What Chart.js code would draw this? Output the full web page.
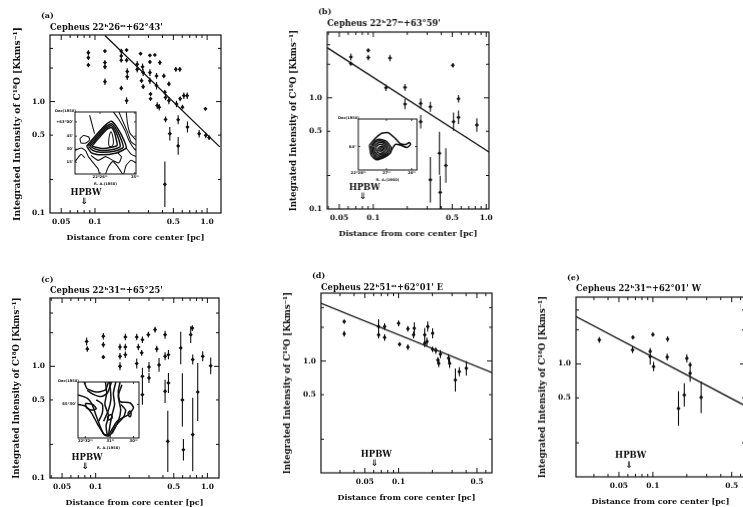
<!DOCTYPE html>
<html><head><meta charset="utf-8">
<style>
html,body{margin:0;padding:0;background:#fff;overflow:hidden;width:743px;height:507px}
canvas{position:absolute;filter:blur(.35px)}
</style>
<script src="https://cdn.jsdelivr.net/npm/chart.js@4"></script>
</head><body>
<script>
// ---- tick lists
const xMinorTicks=[.02,.03,.04,.05,.06,.07,.08,.09,.1,.2,.3,.4,.5,.6,.7,.8,.9,1];
const yAllTicks=[.1,.2,.5,1,2,3];
const xLabelsWide=[.05,.1,.5,1];
const xLabelsNarrow=[.05,.1,.5];
const yLabelsWide=[.1,.5,1];
const yLabelsNarrow=[.5,1];
// ---- panel (a)
const xA=[.0873,.0873,.0873,.1227,.1227,.1227,.1227,.1716,.1716,.1716,.1716,.1914,.1914,.194,.194,.1914,.238,.238,.255,.2656,.269,.26,.269,.309,.309,.309,.309,.313,.313,.342,.354,.379,.354,.411,.359,.374,.42,.426,.456,.456,.426,.465,.526,.571,.533,.575,.62,.664,.603,.552,.552,.668,.849,.966,.973,1.042,.42];
const yA=[2.75,2.48,2.13,2.84,2.24,2.05,1.51,2.84,2.57,2.35,1.32,2.9,2.35,1.86,1.67,1.02,2.16,1.95,2.69,2.05,1.82,1.54,1.36,2.6,2.27,1.82,1.54,1.17,1.06,2.62,1.39,2.24,1.7,1.7,.92,.891,1.21,1.09,1.44,1.02,.692,.515,1.95,1.95,.953,1.06,1.13,1.13,.891,.687,.4,.591,.515,.861,.498,.475,.181];
const fA=[1.05,1.05,1.05,1.03,1.05,1.05,1.07,1.05,1.05,1.05,1.05,1.03,1.05,1.07,1.07,1.07,1.07,1.07,1.03,1.07,1.07,1.05,1.05,1.03,1.04,1.07,1.07,1.04,1.04,1.02,1.08,1.05,1.06,1.05,1.07,1.07,1.05,1.06,1.05,1.08,1.06,1.15,1.05,1.05,1.07,1.05,1.07,1.07,1.05,1.1,1.2,1.12,1.08,1.03,1.06,1.05,1.6];
const lineXA=[.1227,1.297], lineYA=[3.92,.392];
// ---- panel (b)
const xB=[.0634,.0634,.0903,.0903,.1406,.1295,.191,.191,.263,.263,.32,.32,.385,.391,.439,.506,.568,.568,.513,.826];
const yB=[2.33,2.03,2.67,2.3,2.28,1.23,1.24,.877,.89,.61,.83,.183,.317,.141,.246,1.96,.98,.667,.61,.57];
const fB=[1.07,1.04,1.04,1.06,1.07,1.07,1.07,1.11,1.11,1.15,1.11,1.6,1.56,1.41,1.43,1.05,1.08,1.15,1.21,1.15];
const lineXB=[.0391,1.057], lineYB=[2.82,.326];
// ---- panel (c)
const xC=[.083,.0842,.1171,.1171,.1171,.165,.165,.165,.1844,.1844,.1844,.233,.233,.241,.262,.258,.262,.262,.296,.3,.3,.34,.352,.369,.418,.418,.418,.448,.448,.442,.577,.597,.61,.709,.733,.739,.739,.819,.908,1.07];
const yC=[1.67,1.43,1.86,1.56,1.21,1.49,1.23,1,1.83,1.49,1.27,1.83,1.06,1.49,1.73,1.32,.814,.557,1.92,.986,.787,2.13,1.43,1.03,1.92,1.23,.597,1.27,.71,.213,1.46,.5,.179,1.92,2.2,1.15,.245,.589,1.23,1.01];
const fC=[1.085,1.06,1.07,1.06,1.04,1.07,1.07,1.085,1.07,1.07,1.07,1.07,1.11,1.07,1.07,1.06,1.19,1.23,1.06,1.11,1.11,1.06,1.07,1.15,1.085,1.085,1.27,1.1,1.23,1.88,1.4,1.73,1.25,1.19,1.06,1.11,2.13,1.82,1.11,1.19];
// ---- panel (d)
const xD=[.0327,.0327,.0663,.0663,.075,.075,.1,.102,.121,.121,.138,.136,.171,.171,.179,.182,.201,.201,.215,.228,.236,.224,.279,.285,.321,.348,.402];
const yD=[2.25,1.75,2.03,1.71,2.03,1.62,2.17,1.41,1.94,1.33,1.96,1.71,1.71,1.44,1.49,2.03,1.77,1.27,1.24,.953,1.15,1.02,1.06,.953,.676,.802,.86];
const fD=[1.04,1.06,1.16,1.07,1.07,1.07,1.06,1.04,1.06,1.06,1.13,1.07,1.15,1.085,1.085,1.11,1.11,1.06,1.07,1.085,1.085,1.06,1.085,1.1,1.27,1.1,1.16];
const lineXD=[.0203,.681], lineYD=[3.28,.787];
// ---- panel (e)
const xE=[.0335,.0665,.066,.0947,.0947,.1,.1014,.135,.134,.2,.214,.214,.19,.1687,.268];
const yE=[1.63,1.72,1.33,1.29,1.16,1.82,.947,1.66,1.15,1.12,.826,.98,.531,.404,.506];
const fE=[1.06,1.04,1.07,1.07,1.18,1.04,1.1,1.06,1.07,1.085,1.19,1.06,1.27,1.42,1.38];
const lineXE=[.0208,.656], lineYE=[2.63,.427];
// ---- beam-size markers
const hpbwX=[.0798,.0804,.0803,.0607,.061];
const hpbwY=[.151,.154,.151,.147,.153];
// ---- inset contours (offsets in percent of the map)
const contoursA=[
[[19,45],[33,61],[49,78],[60,85],[71,72],[80,55],[84,42],[68,34],[41,31],[27,34],[19,45]],
[[22,45],[35,60],[50,76],[60,81],[69,70],[76,55],[79,43],[66,37],[42,35],[29,38],[22,45]],
[[25,45],[37,59],[51,74],[60,78],[67,68],[72,55],[74,44],[64,40],[44,38],[31,41],[25,45]],
[[28,45],[39,58],[52,72],[60,75],[65,66],[68,54],[69,46],[60,43],[46,41],[34,43],[28,45]],
[[55,50],[56,60],[59,68],[62,60],[63,50],[60,44],[56,45],[55,50]],
[[63,100],[72,88],[82,70],[88,55],[96,42],[100,38]],
[[72,100],[78,86],[86,68],[92,52],[100,46]],
[[84,100],[86,82],[90,66],[100,55]],
[[24,95],[28,80],[32,65]],
[[8,57],[14,62],[22,60],[24,55],[18,50],[10,50],[8,57]],
[[0,38],[10,42],[17,38],[22,28],[30,18],[38,8],[40,0]],
[[0,20],[10,32],[16,26]],
[[26,30],[38,22],[50,28],[62,22],[72,18],[76,28],[70,34]],
[[50,0],[55,12],[62,20],[70,12],[78,0]],
[[80,0],[84,14],[92,22],[100,18]],
[[84,42],[92,32],[100,28]]];
const contoursB=[
[[19,49],[29,62],[40,72],[51,73],[63,62],[71,52],[81,50],[87,54],[89,50],[83,44],[71,49],[63,50],[58,42],[54,33],[46,26],[31,20],[22,29],[19,49]],
[[22,48],[30,58],[38,60],[48,56],[56,44],[54,33],[44,27],[32,22],[24,32],[22,48]],
[[24,47],[31,56],[39,57],[47,53],[53,43],[51,34],[43,29],[33,25],[26,34],[24,47]],
[[27,46],[33,53],[40,54],[46,50],[50,42],[48,35],[41,31],[34,29],[28,36],[27,46]],
[[30,45],[35,50],[40,50],[45,47],[47,41],[44,36],[39,33],[35,33],[31,38],[30,45]],
[[34,43],[38,46],[42,46],[44,42],[41,38],[37,37],[34,39],[34,43]],
[[37,42],[40,44],[42,42],[40,39],[37,40],[37,42]]];
const contoursC=[
[[0,77],[15,71],[23,60],[31,36],[42,7],[50,6],[64,30],[83,42],[91,54],[85,63],[69,65],[66,83],[69,100]],
[[0,60],[12,57],[22,45],[32,25],[44,5],[52,4],[62,22],[75,38],[78,50],[70,60]],
[[10,100],[15,88],[30,82],[45,86],[50,100]],
[[15,85],[25,78],[38,74],[48,80],[55,100]],
[[12,62],[24,60],[30,52],[22,50],[14,54],[12,62]],
[[45,100],[47,80],[44,60],[50,40],[46,22],[48,5]],
[[62,100],[58,80],[60,60],[56,42],[52,20],[50,3]],
[[52,100],[54,70],[50,50],[42,30]],
[[72,95],[66,75],[70,50],[66,30],[56,8]],
[[84,38],[82,44],[85,48],[87,44],[86,38],[84,38]],
[[48,38],[54,42],[56,36],[50,32],[48,38]],
[[30,68],[40,60],[40,45],[34,30]]];
const insetXTicksA=[41,98], insetXNamesA=["22ʰ26ᵐ","25ᵐ"], insetYTicksA=[19,40,61,84], insetYNamesA=["15'","30'","45'","+63°00'"];
const insetXTicksB=[0,48,91], insetXNamesB=["22ʰ28ᵐ","27ᵐ","26ᵐ"], insetYTicksB=[46], insetYNamesB=["64°"];
const insetXTicksC=[12,53,91], insetXNamesC=["22ʰ32ᵐ","31ᵐ","30ᵐ"], insetYTicksC=[60], insetYNamesC=["65°30'"];

const INK='#111';
const FONT='"DejaVu Serif"';
function el(l,t,w,h){const c=document.createElement('canvas');c.width=w;c.height=h;c.style.left=l+'px';c.style.top=t+'px';c.style.width=w+'px';c.style.height=h+'px';document.body.appendChild(c);return c}

const framePlugin={id:'frame',
 beforeDatasetsDraw(ch,_a,o){
  const a=ch.chartArea,g=ch.ctx;g.save();g.strokeStyle=INK;g.lineWidth=o.frameWidth;g.strokeRect(a.left,a.top,a.right-a.left,a.bottom-a.top);
  g.lineWidth=o.tickWidth;g.beginPath();
  for(const t of o.xTicks){const p=ch.scales.x.getPixelForValue(t);if(p<a.left+1||p>a.right-1)continue;const L=o.xLong.includes(t)?o.long:o.short;
   g.moveTo(p,a.bottom);g.lineTo(p,a.bottom-L);g.moveTo(p,a.top);g.lineTo(p,a.top+L);}
  for(const t of o.yTicks){const p=ch.scales.y.getPixelForValue(t);if(p<a.top+1||p>a.bottom-1)continue;const L=o.yLong.includes(t)?o.long:o.short;
   g.moveTo(a.left,p);g.lineTo(a.left+L,p);g.moveTo(a.right,p);g.lineTo(a.right-L,p);}
  g.stroke();
  if(o.err){const d=o.err;g.lineWidth=1.1;g.beginPath();
   d.x.forEach((x,i)=>{const px=ch.scales.x.getPixelForValue(x);
    let hi=ch.scales.y.getPixelForValue(d.y[i]*d.f[i]),lo=ch.scales.y.getPixelForValue(d.y[i]/d.f[i]);
    lo=Math.min(lo,a.bottom);g.moveTo(px,hi);g.lineTo(px,lo);});
   g.stroke();}
  g.restore();
 },
 afterDraw(ch,_a,o){
  const g=ch.ctx,a=ch.chartArea;g.save();g.fillStyle=INK;g.textBaseline='middle';
  if(o.letter){g.textAlign='left';g.font='bold 8px '+FONT;g.fillText(o.letter,a.left-9,a.top-o.letterUp);}
  if(o.beam){const px=ch.scales.x.getPixelForValue(o.beam[0]),py=ch.scales.y.getPixelForValue(o.beam[1]);
   g.textAlign='center';g.font='bold 8.5px '+FONT;g.fillText('HPBW',px+2,py);
   g.font='bold 9px "DejaVu Sans"';g.fillText('⇓',px,py+9);}
  if(o.corner){g.textAlign='left';g.font='bold 3.6px "DejaVu Sans"';g.fillText(o.corner,a.left-20,a.top-1);}
  g.restore();
 }};

function panel(c){
 const w=c.right-c.left,h=c.bottom-c.top;
 const cv=el(c.left-44,c.top-26,w+44+18,h+26+36);
 const datasets=[{type:'scatter',data:c.x.map((x,i)=>({x,y:c.y[i]})),backgroundColor:INK,borderColor:INK,pointStyle:'rectRot',pointRadius:2.1,pointBorderWidth:0}];
 if(c.lineX)datasets.push({type:'line',data:c.lineX.map((x,i)=>({x,y:c.lineY[i]})),borderColor:INK,borderWidth:1.3,pointRadius:0,tension:0});
 const makeTicks=(list)=>s=>{s.ticks=list.map(value=>({value}))};
 const fmt=v=>v>=.1&&(v===1||v===.5||v===.1)?v.toFixed(1):v===.05?'0.05':'';
 new Chart(cv,{type:'scatter',data:{datasets},plugins:[framePlugin],options:{
  responsive:false,animation:false,events:[],
  layout:{padding:{left:0,right:18,top:0,bottom:0}},
  scales:{
   x:{type:'logarithmic',min:c.xMin,max:c.xMax,grid:{display:false,drawTicks:false},border:{display:false},afterBuildTicks:makeTicks(c.xLabels),afterFit:s=>{s.height=36},
    ticks:{color:INK,font:{family:FONT,size:7.5,weight:'bold'},padding:5,autoSkip:false,maxRotation:0,callback:fmt},
    title:{display:true,text:'Distance from core center [pc]',color:INK,font:{family:FONT,size:8,weight:'bold'},padding:{top:0,bottom:6}}},
   y:{type:'logarithmic',min:c.yMin,max:c.yMax,grid:{display:false,drawTicks:false},border:{display:false},afterBuildTicks:makeTicks(c.yLabels),afterFit:s=>{s.width=44},
    ticks:{color:INK,font:{family:FONT,size:7.5,weight:'bold'},padding:5,autoSkip:false,callback:fmt},
    title:{display:true,text:'Integrated Intensity of C¹⁸O [Kkms⁻¹]',color:INK,font:{family:FONT,size:c.yTitleSize,weight:'bold'},padding:{top:6,bottom:0}}}
  },
  plugins:{legend:{display:false},tooltip:{enabled:false},
   title:{display:true,text:c.title,align:'start',fullSize:false,color:INK,font:{family:FONT,size:8.3,weight:'bold',lineHeight:10/8.3},padding:{top:16-c.titleGap,bottom:c.titleGap}},
   frame:{frameWidth:1.2,tickWidth:1,long:5,short:3,xTicks:xMinorTicks,yTicks:yAllTicks,xLong:c.xLabels,yLong:[1],
    err:{x:c.x,y:c.y,f:c.f},letter:c.letter,letterUp:c.letterUp,beam:c.beam}}
 }});
}
function inset(c){
 const w=c.right-c.left,h=c.bottom-c.top;
 const cv=el(c.left-24,c.top-8,w+24+8,h+8+16);
 const datasets=c.lines.map((l,i)=>({type:'line',data:l.map(p=>({x:p[0],y:p[1]})),borderColor:INK,borderWidth:i<c.heavy?1.5:1.05,pointRadius:0,tension:.2}));
 const tickAt=(list)=>s=>{s.ticks=list.map(value=>({value}))};
 new Chart(cv,{type:'scatter',data:{datasets},plugins:[framePlugin],options:{
  responsive:false,animation:false,events:[],
  layout:{padding:{left:0,right:8,top:8,bottom:0}},
  scales:{
   x:{type:'linear',min:0,max:100,grid:{display:false,drawTicks:false},border:{display:false},afterBuildTicks:tickAt(c.xTicks),afterFit:s=>{s.height=16},
    ticks:{color:INK,font:{family:'"DejaVu Sans"',size:3.8,weight:'bold'},padding:1,autoSkip:false,maxRotation:0,callback:v=>c.xNames[c.xTicks.indexOf(v)]||''},
    title:{display:true,text:'R. A.(1950)',color:INK,font:{family:'"DejaVu Sans"',size:3.6,weight:'bold'},padding:{top:0,bottom:4}}},
   y:{type:'linear',min:0,max:100,grid:{display:false,drawTicks:false},border:{display:false},afterBuildTicks:tickAt(c.yTicks),afterFit:s=>{s.width=24},
    ticks:{color:INK,font:{family:'"DejaVu Sans"',size:3.8,weight:'bold'},padding:2,autoSkip:false,callback:v=>c.yNames[c.yTicks.indexOf(v)]||''}}
  },
  plugins:{legend:{display:false},tooltip:{enabled:false},title:{display:false},
   frame:{frameWidth:1,tickWidth:.8,long:2,short:2,xTicks:c.xTicks,yTicks:c.yTicks,xLong:[],yLong:[],corner:'Dec(1950)'}}
 }});
}

panel({left:50,right:221,top:34.5,bottom:213,xMin:.0397,xMax:1.33,yMin:.1,yMax:3.96,x:xA,y:yA,f:fA,lineX:lineXA,lineY:lineYA,xLabels:xLabelsWide,yLabels:yLabelsWide,title:"Cepheus 22ʰ26ᵐ+62°43'",titleGap:2,yTitleSize:9.2,letter:'(a)',letterUp:19,beam:[hpbwX[0],hpbwY[0]]});
panel({left:327.3,right:488.7,top:31.7,bottom:209.3,xMin:.0391,xMax:1.057,yMin:.1,yMax:3.9,x:xB,y:yB,f:fB,lineX:lineXB,lineY:lineYB,xLabels:xLabelsWide,yLabels:yLabelsWide,title:"Cepheus 22ʰ27ᵐ+63°59'",titleGap:3,yTitleSize:8.6,letter:'(b)',letterUp:20,beam:[hpbwX[1],hpbwY[1]]});
panel({left:50,right:219,top:298.3,bottom:478.3,xMin:.039,xMax:1.27,yMin:.1,yMax:4.09,x:xC,y:yC,f:fC,xLabels:xLabelsWide,yLabels:yLabelsWide,title:"Cepheus 22ʰ31ᵐ+65°25'",titleGap:2,yTitleSize:8.6,letter:'(c)',letterUp:18,beam:[hpbwX[2],hpbwY[2]]});
panel({left:320.7,right:491.7,top:293.3,bottom:472.7,xMin:.0203,xMax:.681,yMin:.1,yMax:4.04,x:xD,y:yD,f:fD,lineX:lineXD,lineY:lineYD,xLabels:xLabelsNarrow,yLabels:yLabelsNarrow,title:"Cepheus 22ʰ51ᵐ+62°01' E",titleGap:0,yTitleSize:8.6,letter:'(d)',letterUp:17,beam:[hpbwX[3],hpbwY[3]]});
panel({left:575.7,right:745,top:297.3,bottom:476.7,xMin:.0208,xMax:.656,yMin:.1,yMax:3.9,x:xE,y:yE,f:fE,lineX:lineXE,lineY:lineYE,xLabels:xLabelsNarrow,yLabels:yLabelsNarrow,title:"Cepheus 22ʰ31ᵐ+62°01' W",titleGap:3,yTitleSize:8.6,letter:'(e)',letterUp:19,beam:[hpbwX[4],hpbwY[4]]});
inset({left:75,right:136,top:112.3,bottom:174.3,lines:contoursA,heavy:4,xTicks:insetXTicksA,xNames:insetXNamesA,yTicks:insetYTicksA,yNames:insetYNamesA});
inset({left:358.3,right:416.7,top:119,bottom:170,lines:contoursB,heavy:7,xTicks:insetXTicksB,xNames:insetXNamesB,yTicks:insetYTicksB,yNames:insetYNamesB});
inset({left:77.7,right:139,top:382.3,bottom:438.3,lines:contoursC,heavy:12,xTicks:insetXTicksC,xNames:insetXNamesC,yTicks:insetYTicksC,yNames:insetYNamesC});
</script>
</body></html>
